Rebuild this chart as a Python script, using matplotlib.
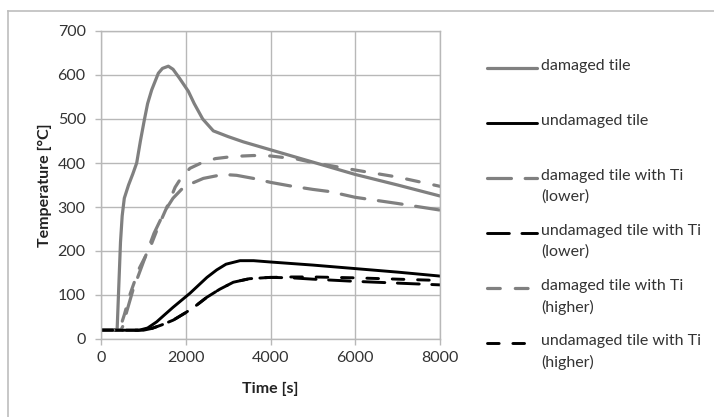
import matplotlib
matplotlib.use("Agg")
import matplotlib.pyplot as plt
from matplotlib.lines import Line2D

plt.rcParams['font.family'] = ['Lato', 'DejaVu Sans']

# ---- data ----
t_dam = [0, 380, 420, 460, 500, 550, 650, 750, 842, 930, 1023, 1100, 1196, 1353, 1450, 1589,
         1700, 1850, 2061, 2200, 2400, 2651, 3000, 3360, 4000, 5000, 5641, 6000, 7000, 8000]
T_dam = [20, 20, 120, 220, 280, 320, 350, 375, 400, 450, 498, 535, 566, 604, 615, 620,
         613, 593, 563, 535, 500, 473, 460, 448, 430, 402, 384, 374, 350, 325]

t_und = [0, 900, 1100, 1314, 1500, 1700, 1900, 2100, 2300, 2500, 2730, 2950, 3280, 3600,
         4000, 5000, 6000, 7000, 8000]
T_und = [20, 20, 25, 39, 55, 72, 88, 104, 122, 140, 157, 170, 178, 178,
         175, 168, 160, 152, 143]

t_dam_lo = [0, 470, 520, 600, 750, 1000, 1250, 1500, 1700, 1900, 2100, 2415, 2885, 3200,
            3594, 4000, 4460, 5000, 5400, 6000, 7000, 8000]
T_dam_lo = [20, 20, 30, 60, 110, 175, 240, 290, 320, 340, 352, 365, 374, 372,
            365, 356, 348, 340, 335, 322, 308, 293]

t_und_lo = [0, 1000, 1200, 1432, 1707, 2000, 2258, 2500, 2800, 3122, 3500, 3988, 4500,
            5000, 6000, 7000, 8000]
T_und_lo = [20, 20, 24, 32, 43, 60, 77, 95, 113, 129, 137, 140, 139,
            136, 131, 127, 123]

t_dam_hi = [0, 430, 450, 550, 690, 900, 1163, 1350, 1556, 1750, 1910, 2100, 2342, 2700,
            3128, 3600, 4000, 4620, 5000, 6000, 7000, 8000]
T_dam_hi = [20, 20, 25, 55, 103, 160, 209, 255, 300, 345, 369, 388, 399, 410,
            415, 417, 416, 409, 401, 384, 368, 347]

t_und_hi = [0, 1000, 1200, 1432, 1707, 2000, 2258, 2500, 2800, 3122, 3500, 3988, 4500,
            5000, 6000, 7000, 8000]
T_und_hi = [20, 20, 24, 32, 43, 60, 77, 95, 113, 129, 137, 140, 141,
            141, 139, 136, 133]

labels = ["damaged tile", "undamaged tile", "damaged tile with Ti\n(lower)",
          "undamaged tile with Ti\n(lower)", "damaged tile with Ti\n(higher)",
          "undamaged tile with Ti\n(higher)"]

x_ticks = [0, 2000, 4000, 6000, 8000]
y_ticks = [0, 100, 200, 300, 400, 500, 600, 700]

# ---- styles ----
GRAY = '#808080'
BLACK = '#000000'
GRID = '#b8b8b8'
long_dash = (0, (7.5, 4.3))
short_dash = (0, (4, 4.7))
styles = [
    dict(color=GRAY, lw=2.3, ls='-'),
    dict(color=BLACK, lw=2.1, ls='-'),
    dict(color=GRAY, lw=2.3, ls=long_dash),
    dict(color=BLACK, lw=2.1, ls=long_dash),
    dict(color=GRAY, lw=2.3, ls=short_dash),
    dict(color=BLACK, lw=2.1, ls=short_dash),
]
series = [(t_dam, T_dam), (t_und, T_und), (t_dam_lo, T_dam_lo),
          (t_und_lo, T_und_lo), (t_dam_hi, T_dam_hi), (t_und_hi, T_und_hi)]

W, H = 714, 417
fig = plt.figure(figsize=(W / 100, H / 100), dpi=100)
ax = fig.add_axes([101 / W, 1 - 339 / H, (440 - 101) / W, (339 - 31) / H])

for (t, T), st in zip(series, styles):
    ax.plot(t, T, color=st['color'], lw=st['lw'], ls=st['ls'],
            dash_capstyle='round', solid_capstyle='round', solid_joinstyle='round')

ax.set_xlim(0, 8000)
ax.set_ylim(0, 700)
ax.set_xticks(x_ticks)
ax.set_yticks(y_ticks)
ax.set_xticklabels([str(v) for v in x_ticks])
ax.set_yticklabels([str(v) for v in y_ticks])
ax.grid(True, color=GRID, lw=1.0)
ax.set_axisbelow(True)
for s in ax.spines.values():
    s.set_color(GRID)
    s.set_linewidth(1.0)
ax.tick_params(axis='both', length=4, width=1.0, color=GRID, labelsize=11.5,
               labelcolor='#333333')
ax.tick_params(axis='y', pad=7)
ax.tick_params(axis='x', pad=5)
ax.set_xlabel("Time [s]", fontsize=11.5, fontweight='bold', color='#222222', labelpad=12)
ax.set_ylabel("Temperature [°C]", fontsize=11.5, fontweight='bold', color='#222222', labelpad=4)

# ---- legend (manual, to match layout) ----
ys = [68, 123, 178, 233, 288, 343]
for lab, st, y in zip(labels, styles, ys):
    yf = 1 - y / H
    fig.add_artist(Line2D([487 / W, 537 / W], [yf, yf], transform=fig.transFigure,
                          color=st['color'], lw=st['lw'], ls=st['ls'],
                          dash_capstyle='round', solid_capstyle='round'))
    fig.text(541 / W, 1 - (y - 9) / H, lab, fontsize=11.5, color='#333333', va='top',
             ha='left', linespacing=1.6, transform=fig.transFigure)

# ---- outer frame (top and left edges visible) ----
fig.add_artist(Line2D([8 / W, 1], [1 - 11 / H, 1 - 11 / H], transform=fig.transFigure,
                      color='#bdbdbd', lw=1.2))
fig.add_artist(Line2D([8 / W, 8 / W], [0, 1 - 11 / H], transform=fig.transFigure,
                      color='#bdbdbd', lw=1.2))

fig.savefig("out.png", dpi=100, facecolor='white')
